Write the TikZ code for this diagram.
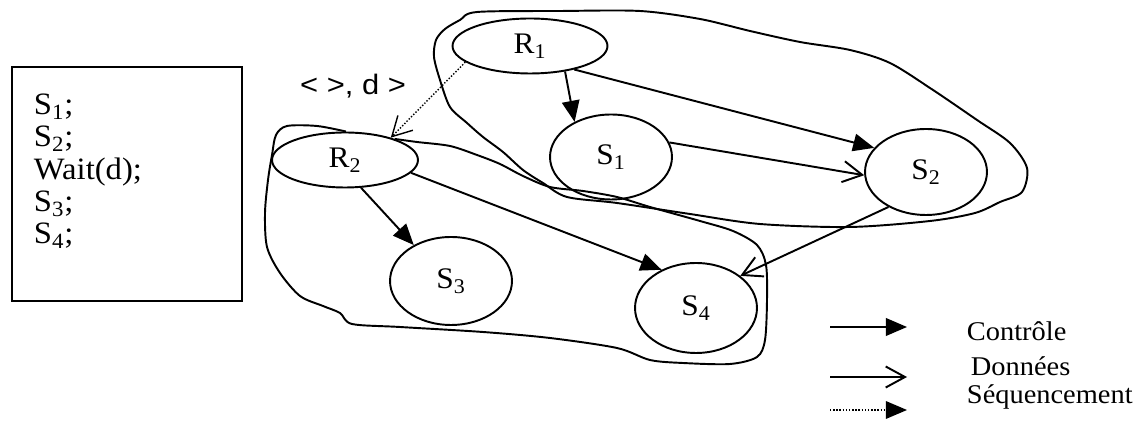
\documentclass[tikz,border=0pt]{standalone}
\usepackage{fontspec}
\setmainfont{Liberation Serif}[FakeStretch=1.05]
\newfontfamily\lblfont{Liberation Sans}[FakeStretch=1.1]
\usepackage{tikz}
\usetikzlibrary{positioning,arrows.meta,shapes.geometric}

\begin{document}
\begin{tikzpicture}[x=0.02cm,y=-0.02cm,line width=1.1pt,
        st/.style={draw,ellipse,inner sep=0pt,minimum width=2.44cm,font=\fontsize{17}{20}\selectfont},
        ctrl/.style={-{Triangle[length=12pt,width=10pt]}},
        dat/.style={-{Straight Barb[length=11pt,width=12pt]}},
        seq/.style={densely dotted,line width=0.8pt},
        leg/.style={anchor=west,inner sep=0pt,font=\fontsize{15.4}{18}\selectfont},
        ]
        \useasboundingbox (0,0) rectangle (1146,421);
        \draw (12,67) rectangle (242,301);
        \node (code) [anchor=north west,inner sep=0pt,align=left,font=\fontsize{17.7}{18.4}\selectfont] at (33,93)
            {S\textsubscript{1};\\ S\textsubscript{2};\\ Wait(d);\\ S\textsubscript{3};\\ S\textsubscript{4};};
        \node (r1) [st,minimum width=3.1cm,minimum height=1.1cm] at (530,46) {R\textsubscript{1}};
        \node (r2) [st,minimum width=2.92cm,minimum height=1.1cm] at (345,160) {R\textsubscript{2}};
        \node (s1) [st,minimum height=1.7cm] at (611,157) {S\textsubscript{1}};
        \node (s2) [st,minimum height=1.72cm] at (926,172) {S\textsubscript{2}};
        \node (s3) [st,minimum height=1.76cm] at (451,281) {S\textsubscript{3}};
        \node (s4) [st,minimum height=1.8cm] at (696,308) {S\textsubscript{4}};
        \node (lbl) [font=\lblfont\fontsize{16}{18}\selectfont] at (353,86) {< >, d >};
        \draw plot[smooth cycle] coordinates {(477,12) (560,11) (640,11) (700,19) (750,31) (800,42) (850,50) (890,63) (933,90) (977,120) (1010,143) (1027,168) (1022,192) (1000,202) (975,213) (930,221) (850,227) (760,224) (690,214) (617,203) (567,197) (543,183) (523,170) (503,152) (483,137) (467,123) (450,107) (440,80) (434,57) (436,40) (445,29) (460,20)};
        \draw plot[smooth] coordinates {(r2.23) (417,142) (450,146) (477,155) (500,164) (523,176) (550,187) (583,191) (617,197) (650,207) (700,221) (733,231) (757,245) (766,265) (767,300) (765,340) (757,357) (730,364) (683,363) (650,360) (617,348) (550,338) (483,332) (400,327) (352,324) (340,313) (323,306) (300,296) (280,273) (267,247) (265,213) (268,180) (272,155) (276,135) (287,126) (317,126) (r2.88)};
        \draw[ctrl] (r1.-36) -- (s1.136);
        \draw[ctrl] (r1.-28) -- (s2.155);
        \draw[seq,dat] (r1.194) -- (r2.26);
        \draw[dat] (s1.14) -- (s2.183);
        \draw[ctrl] (r2.-60) -- (s3.136);
        \draw[ctrl] (r2.-11) -- (s4.132);
        \draw[dat] (s2.223) -- (s4.36);
        \node (lc) [leg] at (966,331) {Contrôle};
        \node (ld) [leg] at (970,366) {Données};
        \node (ls) [leg] at (966,397) {Séquencement};
        \coordinate (lc1) at (830,327);
        \coordinate (ld1) at (830,377);
        \coordinate (ls1) at (830,410);
        \draw[ctrl] (lc1) -- ++(77,0);
        \draw[dat] (ld1) -- ++(77,0);
        \draw[seq,ctrl] (ls1) -- ++(77,0);
\end{tikzpicture}
\end{document}
